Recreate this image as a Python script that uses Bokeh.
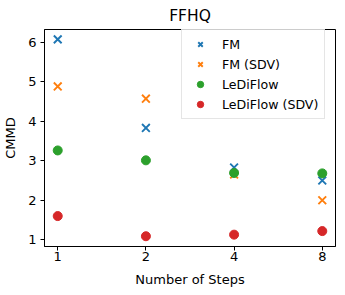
from bokeh.plotting import figure
from bokeh.models import FixedTicker, Range1d, Legend, LegendItem
from bokeh.embed import file_html
from bokeh.resources import INLINE

steps = [1, 2, 4, 8]
step_labels = ["1", "2", "4", "8"]
fm = [6.07, 3.83, 2.83, 2.50]
fm_sdv = [4.88, 4.57, 2.65, 2.00]
ledi = [3.26, 3.01, 2.69, 2.68]
ledi_sdv = [1.60, 1.09, 1.13, 1.22]
y_ticks = [1, 2, 3, 4, 5, 6]

FONT = "DejaVu Sans"

p = figure(frame_width=291, frame_height=217, output_backend="svg", toolbar_location=None,
           x_axis_type="log", x_range=Range1d(2 ** -0.15, 2 ** 3.15),
           y_range=Range1d(0.83, 6.32),
           min_border_left=40, min_border_right=2, min_border_top=21, min_border_bottom=43)

p.title.text = "FFHQ"
p.title.align = "center"
p.title.text_font = FONT
p.title.text_font_size = "15.5px"
p.title.text_font_style = "normal"
p.title.text_color = "black"
p.title.standoff = 9

p.grid.visible = False
p.outline_line_color = "black"
p.outline_line_width = 1
p.outline_line_alpha = 1

for ax in (p.xaxis[0], p.yaxis[0]):
    ax.major_tick_out = 4
    ax.major_tick_in = 0
    ax.minor_tick_out = 0
    ax.minor_tick_in = 0
    ax.major_label_text_font = FONT
    ax.major_label_text_font_size = "13px"
    ax.major_label_text_color = "black"
    ax.axis_label_text_font = FONT
    ax.axis_label_text_font_size = "13px"
    ax.axis_label_text_font_style = "normal"
    ax.axis_label_text_color = "black"
    ax.axis_line_color = "black"
    ax.major_tick_line_color = "black"

p.xaxis.ticker = FixedTicker(ticks=steps)
p.xaxis.major_label_overrides = {s: l for s, l in zip(steps, step_labels)}
p.xaxis.axis_label = "Number of Steps"
p.xaxis.major_label_standoff = 1
p.xaxis.axis_label_standoff = 8

p.yaxis.ticker = FixedTicker(ticks=y_ticks)
p.yaxis.axis_label = "CMMD"
p.yaxis.major_label_standoff = 4
p.yaxis.axis_label_standoff = 7

r1 = p.scatter(steps, fm, marker="x", size=11, line_color="#1f77b4", line_width=1.9)
r2 = p.scatter(steps, fm_sdv, marker="x", size=11, line_color="#ff7f0e", line_width=1.9)
r3 = p.scatter(steps, ledi, marker="circle", size=9, fill_color="#2ca02c", line_color="#2ca02c")
r4 = p.scatter(steps, ledi_sdv, marker="circle", size=9, fill_color="#d62728", line_color="#d62728")

legend = Legend(items=[
    LegendItem(label="FM", renderers=[r1]),
    LegendItem(label="FM (SDV)", renderers=[r2]),
    LegendItem(label="LeDiFlow", renderers=[r3]),
    LegendItem(label="LeDiFlow (SDV)", renderers=[r4]),
], location=(137, 127))
legend.margin = 0
legend.padding = 6
legend.spacing = 4
legend.glyph_width = 24
legend.glyph_height = 16
legend.label_height = 16
legend.label_standoff = 10
legend.label_text_font = FONT
legend.label_text_font_size = "12.6px"
legend.label_text_color = "black"
legend.border_line_color = "#cccccc"
legend.border_line_width = 1
legend.background_fill_alpha = 0.8
p.add_layout(legend, "center")

open("out.html", "w").write(file_html(p, INLINE))
